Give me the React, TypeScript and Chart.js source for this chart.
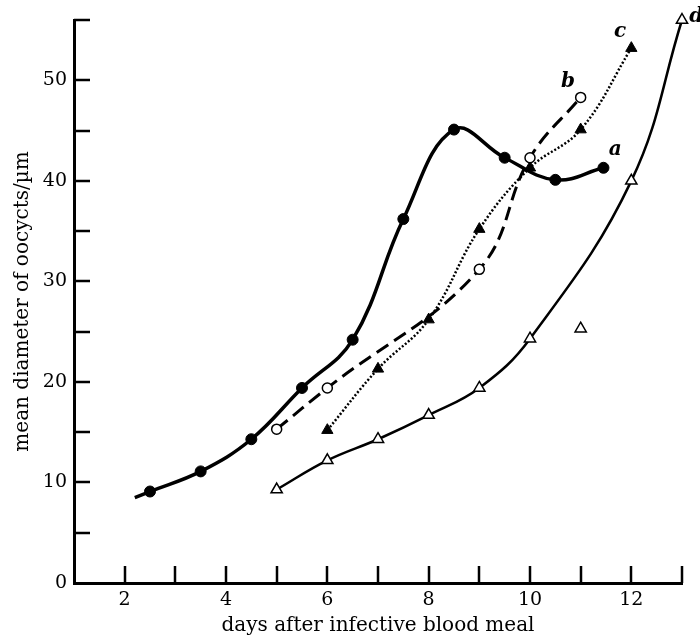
import React, { useEffect, useRef } from 'react';
import { Chart, registerables } from 'chart.js';

Chart.register(...registerables);

// ---- data ----
// series a (filled circles, solid thick); first point is the curve's start, no marker
const aDays = [2.2, 2.5, 3.5, 4.5, 5.5, 6.5, 7.5, 8.5, 9.5, 10.5, 11.45];
const aDiam = [8.5, 9.1, 11.1, 14.3, 19.4, 24.2, 36.2, 45.1, 42.3, 40.1, 41.3];
const aMarker = [false, true, true, true, true, true, true, true, true, true, true];

// series b (open circles, dashed)
const bDays = [5, 6, 9, 10, 11];
const bDiam = [15.3, 19.4, 31.2, 42.3, 48.3];

// series c (filled triangles, dotted)
const cDays = [6, 7, 8, 9, 10, 11, 12];
const cDiam = [15.2, 21.3, 26.2, 35.2, 41.3, 45.1, 53.2];

// series d (open triangles, solid)
const dDays = [5, 6, 7, 8, 9, 10, 12, 13];
const dDiam = [9.3, 12.2, 14.3, 16.7, 19.4, 24.3, 40.0, 56.0];
// isolated open triangle off curve d
const dExtraDays = [11];
const dExtraDiam = [25.3];

// axes
const xMin = 1;
const xMax = 13;
const yMin = 0;
const yMax = 56;
const xLabelValues = [2, 4, 6, 8, 10, 12];
const xTickValues = [2, 3, 4, 5, 6, 7, 8, 9, 10, 11, 12, 13];
const yLabelValues = [0, 10, 20, 30, 40, 50];
const yTickValues = [5, 10, 15, 20, 25, 30, 35, 40, 45, 50, 56];

// curve letters
const curveLetters = ['a', 'b', 'c', 'd'];
const letterX = [11.68, 10.75, 11.78, 13.28];
const letterY = [43.1, 49.9, 54.8, 56.3];

const xTitle = 'days after infective blood meal';
const yTitle = 'mean diameter of oocycts/µm';

const FONT = '"DejaVu Serif", "Liberation Serif", serif';

const pts = (xs: number[], ys: number[]) => xs.map((x, i) => ({ x, y: ys[i] }));

const innerTicksPlugin = {
  id: 'innerTicks',
  afterDraw(chart: any) {
    const { ctx, chartArea, scales } = chart;
    const xs = scales.x;
    const ys = scales.y;
    ctx.save();
    ctx.strokeStyle = '#000';
    ctx.lineWidth = 2.5;
    ctx.beginPath();
    for (const v of yTickValues) {
      const py = Math.round(ys.getPixelForValue(v));
      ctx.moveTo(chartArea.left, py);
      ctx.lineTo(chartArea.left + 16, py);
    }
    for (const v of xTickValues) {
      const px = Math.round(xs.getPixelForValue(v));
      ctx.moveTo(px, chartArea.bottom);
      ctx.lineTo(px, chartArea.bottom - 17);
    }
    ctx.stroke();

    ctx.fillStyle = '#000';
    ctx.font = 'italic bold 20px ' + FONT;
    ctx.textAlign = 'center';
    ctx.textBaseline = 'middle';
    curveLetters.forEach((t, i) => {
      ctx.fillText(t, xs.getPixelForValue(letterX[i]), ys.getPixelForValue(letterY[i]));
    });
    ctx.restore();
  },
};

export default function App() {
  const ref = useRef<HTMLCanvasElement | null>(null);

  useEffect(() => {
    if (!ref.current) return;
    const chart = new Chart(ref.current, {
      type: 'line',
      data: {
        datasets: [
          {
            data: pts(aDays, aDiam),
            borderColor: '#000',
            borderWidth: 3.5,
            pointRadius: aMarker.map((m) => (m ? 5.5 : 0)),
            pointBackgroundColor: '#000',
            pointBorderColor: '#000',
            pointBorderWidth: 1,
            tension: 0.4,
            clip: false,
          },
          {
            data: pts(bDays, bDiam),
            borderColor: '#000',
            borderWidth: 3,
            borderDash: [14, 7],
            pointRadius: 5,
            pointBackgroundColor: '#fff',
            pointBorderColor: '#000',
            pointBorderWidth: 1.5,
            tension: 0.4,
            clip: false,
          },
          {
            data: pts(cDays, cDiam),
            borderColor: '#000',
            borderWidth: 2.5,
            borderDash: [2, 2],
            pointStyle: 'triangle',
            pointRadius: 6.5,
            pointBackgroundColor: '#000',
            pointBorderColor: '#000',
            pointBorderWidth: 1,
            tension: 0.4,
            clip: false,
          },
          {
            data: pts(dDays, dDiam),
            borderColor: '#000',
            borderWidth: 2.5,
            pointStyle: 'triangle',
            pointRadius: 6.5,
            pointBackgroundColor: '#fff',
            pointBorderColor: '#000',
            pointBorderWidth: 1.5,
            tension: 0.4,
            clip: false,
          },
          {
            data: pts(dExtraDays, dExtraDiam),
            showLine: false,
            borderColor: '#000',
            pointStyle: 'triangle',
            pointRadius: 6.5,
            pointBackgroundColor: '#fff',
            pointBorderColor: '#000',
            pointBorderWidth: 1.5,
            clip: false,
          },
        ],
      },
      options: {
        responsive: false,
        animation: false,
        events: [],
        layout: { padding: { left: 0, top: 20, right: 18, bottom: 0 } },
        plugins: { legend: { display: false }, tooltip: { enabled: false } },
        scales: {
          x: {
            type: 'linear',
            min: xMin,
            max: xMax,
            afterFit: (s: any) => {
              s.height = 57;
            },
            afterBuildTicks: (s: any) => {
              s.ticks = xLabelValues.map((v) => ({ value: v }));
            },
            grid: { display: true, drawOnChartArea: false, drawTicks: false },
            border: { display: true, color: '#000', width: 3 },
            ticks: {
              color: '#000',
              font: { family: FONT, size: 19 },
              padding: 6,
              autoSkip: false,
              maxRotation: 0,
            },
            title: {
              display: true,
              text: xTitle,
              color: '#000',
              font: { family: FONT, size: 20 },
              padding: { top: 0, bottom: 2 },
            },
          },
          y: {
            type: 'linear',
            min: yMin,
            max: yMax,
            afterFit: (s: any) => {
              s.width = 74;
            },
            afterBuildTicks: (s: any) => {
              s.ticks = yLabelValues.map((v) => ({ value: v }));
            },
            grid: { display: true, drawOnChartArea: false, drawTicks: false },
            border: { display: true, color: '#000', width: 3 },
            ticks: {
              color: '#000',
              font: { family: FONT, size: 19 },
              padding: 7,
            },
            title: {
              display: true,
              text: yTitle,
              color: '#000',
              font: { family: FONT, size: 20 },
              padding: { top: 11, bottom: 0 },
            },
          },
        },
      },
      plugins: [innerTicksPlugin],
    } as any);
    return () => chart.destroy();
  }, []);

  return (
    <div style={{ position: 'absolute', left: 0, top: 0, width: 700, height: 640, background: '#fff' }}>
      <canvas ref={ref} width={700} height={640} style={{ display: 'block' }} />
    </div>
  );
}
